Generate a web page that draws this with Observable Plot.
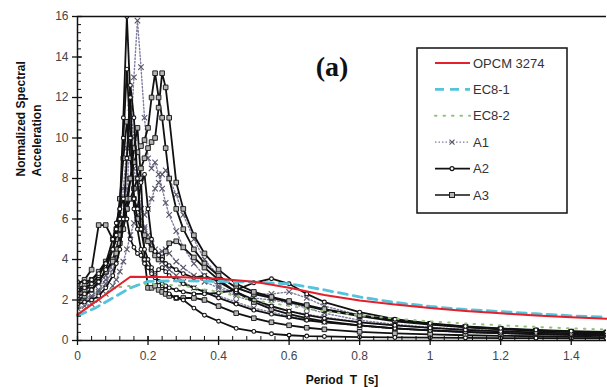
<!DOCTYPE html>
<html>
<head>
<meta charset="utf-8">
<script src="https://cdn.jsdelivr.net/npm/d3@7"></script>
<script src="https://cdn.jsdelivr.net/npm/@observablehq/plot@0.6"></script>
<style>
  html, body { margin: 0; padding: 0; background: #fff; }
  #chart { width: 607px; height: 387px; }
</style>
</head>
<body>
<div id="chart"></div>
<script>
// ---- Data ----
const periods = [0,0.02,0.04,0.06,0.08,0.10,0.11,0.12,0.13,0.14,0.15,0.16,0.17,0.18,0.19,0.20,0.21,0.22,0.23,0.24,0.25,0.26,0.28,0.30,0.33,0.36,0.40,0.45,0.50,0.55,0.60,0.65,0.70,0.80,0.90,1.0,1.1,1.2,1.3,1.4,1.5];

const A1_1 = [1.9,2.0,2.1,2.4,2.8, 3.5,4.0,5.0,6.0,7.5,10.0,13.0,15.8,13.5,11.0,9.0,8.5,8.8,8.2,7.5,6.8,6.2, 5.4,4.6, 3.8,3.2,2.7, 2.3,2.1,2.0,1.85,1.6,1.35, 1.0,0.8,0.65, 0.55,0.48,0.42,0.38,0.34];
const A1_2 = [2.3,2.4,2.5,2.8,3.2, 3.8,4.2,5.0,6.0,7.0,8.0,8.5,7.5,6.5,6.2,6.5,7.0,7.5,7.8,8.2,8.4,8.0, 7.2,6.2, 5.0,4.0,3.2, 2.6,2.3,2.3,2.4,2.1,1.7, 1.25,1.0,0.8, 0.66,0.56,0.48,0.42,0.38];
const A1_3 = [2.0,2.1,2.2,2.5,3.0, 3.8,4.5,5.5,7.5,9.5,11.5,10.0,8.0,6.5,5.5,5.0,4.6,4.3,4.1,3.9,3.7,3.5, 3.2,2.9, 2.6,2.4,2.2, 1.9,1.6,1.4,1.2,1.05,0.92, 0.72,0.58,0.48, 0.4,0.35,0.3,0.27,0.24];
const A1_4 = [1.6,1.7,1.8,2.0,2.3, 2.7,3.0,3.4,3.9,4.5,5.2,5.8,6.2,6.0,5.6,5.2,4.8,4.5,4.3,4.4,4.5,4.3, 3.9,3.6, 3.2,2.9,2.6, 2.2,1.9,1.65,1.45,1.3,1.15, 0.92,0.75,0.62, 0.52,0.45,0.4,0.35,0.31];

const A2_1 = [2.5,2.6,2.8,3.2,3.8, 5.0,5.8,6.5,11.0,16.0,12.0,6.5,5.5,4.5,3.8,3.6,3.4,3.3,3.5,3.6,3.4,3.2, 3.0,2.8, 2.6,2.4,2.1, 1.8,1.5,1.3,1.15,1.0,0.9, 0.75,0.6,0.5, 0.42,0.36,0.32,0.28,0.25];
const A2_2 = [2.2,2.3,2.5,2.9,3.5, 4.5,5.2,6.0,10.0,13.4,10.0,7.0,6.5,7.8,8.2,6.5,5.0,4.4,4.2,4.0,3.8,3.7, 3.5,3.3, 3.1,3.2,2.9, 2.4,2.0,1.7,1.45,1.25,1.1, 0.9,0.75,0.62, 0.52,0.45,0.4,0.35,0.32];
const A2_3 = [1.8,1.9,2.0,2.2,2.6, 3.2,3.8,4.5,6.0,9.0,12.6,11.0,8.0,5.5,4.5,4.0,3.6,3.2,2.9,2.7,2.5,2.3, 2.1,2.0, 1.6,1.25,0.95, 0.6,0.45,0.33,0.26,0.22,0.2, 0.17,0.15,0.14, 0.13,0.12,0.12,0.11,0.1];
const A2_4 = [2.9,2.9,3.0,3.3,3.8, 4.5,5.5,6.5,7.0,6.0,5.0,4.6,4.3,4.2,4.0,3.6,3.3,3.1,2.9,2.8,2.7,2.6, 2.5,2.4, 2.3,2.3,2.35, 2.5,2.85,3.05,2.8,2.3,1.9, 1.4,1.05,0.85, 0.7,0.6,0.52,0.46,0.42];

const A3_1 = [2.4,2.5,2.7,3.0,3.4, 4.0,4.5,5.2,6.0,7.0,8.0,8.8,9.3,9.6,9.9,10.5,12.0,13.2,12.0,11.0,9.5,8.0, 6.5,5.5, 4.5,3.8,3.2, 2.6,2.3,2.1,1.9,1.7,1.5, 1.2,0.95,0.78, 0.65,0.55,0.48,0.43,0.38];
const A3_2 = [2.6,2.7,3.0,3.4,3.9, 4.5,5.0,5.5,6.0,6.5,7.0,7.5,8.0,8.5,9.0,9.5,9.8,10.0,11.5,13.2,12.5,11.0, 7.8,6.5, 5.2,4.3,3.5, 2.8,2.4,2.15,1.95,1.75,1.55, 1.25,1.0,0.82, 0.68,0.58,0.5,0.44,0.4];
const A3_3 = [2.8,3.0,3.5,5.7,5.7, 5.0,5.5,7.0,9.0,10.8,9.0,7.0,6.0,5.5,5.2,4.9,4.5,4.2,4.0,4.1,4.4,4.8, 4.9,4.6, 4.1,3.6,3.0, 2.4,1.9,1.55,1.3,1.1,0.95, 0.75,0.6,0.5, 0.43,0.37,0.33,0.29,0.26];
const A3_4 = [2.0,2.2,2.5,2.9,3.4, 3.9,4.3,4.8,5.5,6.5,8.0,9.5,10.5,8.0,4.0,2.6,2.6,2.7,2.5,2.4,2.3,2.2, 2.1,2.1, 2.1,2.0,1.7, 1.35,1.1,0.9,0.75,0.63,0.55, 0.43,0.35,0.3, 0.26,0.23,0.21,0.19,0.17];

const opcmT = [0,0.15,0.3,0.4,0.5,0.6,0.7,0.8,0.9,1.0,1.1,1.2,1.3,1.4,1.5];
const opcmS = [1.28,3.15,3.12,3.05,2.9,2.6,2.25,1.98,1.78,1.6,1.46,1.34,1.24,1.15,1.08];
const ec81T = [0,0.05,0.1,0.15,0.2,0.3,0.4,0.5,0.6,0.65,0.7,0.8,0.9,1.0,1.1,1.2,1.3,1.4,1.5];
const ec81S = [1.22,1.6,2.1,2.6,2.92,2.95,2.92,2.88,2.8,2.65,2.5,2.15,1.88,1.68,1.53,1.43,1.32,1.22,1.15];
const ec82T = [0,0.05,0.1,0.2,0.3,0.4,0.5,0.6,0.7,0.8,0.9,1.0,1.1,1.2,1.3,1.4,1.5];
const ec82S = [1.3,1.9,2.6,2.8,2.7,2.4,2.0,1.7,1.45,1.25,1.08,0.94,0.84,0.75,0.67,0.6,0.54];

const xTicks = [0,0.2,0.4,0.6,0.8,1,1.2,1.4];
const yTicks = [0,2,4,6,8,10,12,14,16];
const legendNames = ["OPCM 3274","EC8-1","EC8-2","A1","A2","A3"];

// ---- Build tables ----
function rows(group, list) {
  return list.flatMap((vals, k) => periods.map((T, i) => ({T, S: vals[i], id: group + "-" + k})));
}
const a1Rows = rows("A1", [A1_1, A1_2, A1_3, A1_4]);
const a2Rows = rows("A2", [A2_1, A2_2, A2_3, A2_4]);
const a3Rows = rows("A3", [A3_1, A3_2, A3_3, A3_4]);
const codeRows = (Ts, Ss) => Ts.map((T, i) => ({T, S: Ss[i]}));
const opcm = codeRows(opcmT, opcmS), ec81 = codeRows(ec81T, ec81S), ec82 = codeRows(ec82T, ec82S);

const xMinor = d3.range(0, 1.5001, 0.04);
const yMinor = d3.range(0, 16.001, 0.4);

const font = "'Liberation Sans', Arial, sans-serif";

const svg = Plot.plot({
  width: 607, height: 387,
  marginLeft: 77, marginRight: 1, marginTop: 16, marginBottom: 47,
  style: {fontFamily: font, fontSize: "12px", background: "#fff", color: "#222", overflow: "visible"},
  x: {domain: [0, 1.5], label: null},
  y: {domain: [0, 16], label: null},
  marks: [
    // curves
    Plot.line(a1Rows, {x: "T", y: "S", z: "id", stroke: "#7f7f9e", strokeWidth: 1.4, strokeDasharray: "1.5,2", clip: true}),
    Plot.dot(a1Rows, {x: "T", y: "S", symbol: "times", r: 2.6, stroke: "#55556a", strokeWidth: 1.1, clip: true}),
    Plot.line(a3Rows, {x: "T", y: "S", z: "id", stroke: "#111", strokeWidth: 1.8, clip: true}),
    Plot.dot(a3Rows, {x: "T", y: "S", symbol: "square", r: 2.6, fill: "#b5b5b5", stroke: "#222", strokeWidth: 1, clip: true}),
    Plot.line(a2Rows, {x: "T", y: "S", z: "id", stroke: "#111", strokeWidth: 1.8, clip: true}),
    Plot.dot(a2Rows, {x: "T", y: "S", r: 1.9, fill: "#fff", stroke: "#111", strokeWidth: 1.1, clip: true}),
    Plot.line(ec82, {x: "T", y: "S", stroke: "#8fc27a", strokeWidth: 2, strokeDasharray: "1.5,7", strokeLinecap: "round"}),
    Plot.line(ec81, {x: "T", y: "S", stroke: "#55c3dc", strokeWidth: 2.8, strokeDasharray: "9,6"}),
    Plot.line(opcm, {x: "T", y: "S", stroke: "#e3202c", strokeWidth: 2}),
    // axes lines
    Plot.ruleX([0], {stroke: "#111", strokeWidth: 1.5}),
    Plot.ruleY([0], {stroke: "#111", strokeWidth: 1.5}),
    Plot.ruleY([16], {stroke: "#111", strokeWidth: 1.5}),
    // ticks
    Plot.axisY({ticks: yTicks, tickSize: 10, dx: 5, tickFormat: () => "", stroke: "#111", strokeWidth: 1.3, label: null}),
    Plot.axisY({ticks: yMinor, tickSize: 4, dx: 4, tickFormat: () => "", stroke: "#111", strokeWidth: 1, label: null}),
    Plot.axisY({ticks: yTicks, tickSize: 0, tickPadding: 9, tickFormat: d => String(d), fill: "#444", fontSize: 12, label: null}),
    Plot.axisX({ticks: xTicks, tickSize: 9, dy: -4, tickFormat: () => "", stroke: "#111", strokeWidth: 1.3, label: null}),
    Plot.axisX({ticks: xMinor, tickSize: 4, dy: -4, tickFormat: () => "", stroke: "#111", strokeWidth: 1, label: null}),
    Plot.axisX({ticks: xTicks, tickSize: 0, tickPadding: 11, tickFormat: d => String(d), fill: "#444", fontSize: 12, label: null}),
    // titles
    Plot.text(["Period\u00a0\u00a0T\u00a0\u00a0[s]"], {frameAnchor: "bottom", lineAnchor: "middle", dy: 40, fontWeight: "bold", fontSize: 12, fill: "#111"}),
    Plot.text(["Normalized Spectral"], {frameAnchor: "left", rotate: -90, dx: -56, dy: -2, fontWeight: "bold", fontSize: 12, fill: "#111"}),
    Plot.text(["Acceleration"], {frameAnchor: "left", rotate: -90, dx: -40, dy: -2, fontWeight: "bold", fontSize: 12, fill: "#111"}),
    Plot.text(["(a)"], {frameAnchor: "top", dx: -10, dy: 51, lineAnchor: "middle", fontFamily: "'Liberation Serif', 'Times New Roman', serif", fontWeight: "bold", fontSize: 28, fill: "#111"})
  ]
});
document.getElementById("chart").appendChild(svg);

// ---- Legend box (inside the SVG) ----
const lg = d3.select(svg).append("g").attr("font-family", font).attr("font-size", 13).attr("text-anchor", "start");
lg.append("rect").attr("x", 417).attr("y", 48).attr("width", 150).attr("height", 165)
  .attr("fill", "#fff").attr("stroke", "#111").attr("stroke-width", 1.5);
const styles = [
  {stroke: "#e3202c", w: 2, dash: null, marker: null},
  {stroke: "#55c3dc", w: 2.8, dash: "9,6", marker: null},
  {stroke: "#8fc27a", w: 2, dash: "1.5,7", marker: null},
  {stroke: "#7f7f9e", w: 1.3, dash: "1.5,2", marker: "times"},
  {stroke: "#111", w: 1.7, dash: null, marker: "circle"},
  {stroke: "#111", w: 1.7, dash: null, marker: "square"}
];
legendNames.forEach((name, i) => {
  const y = 63 + i * 26.4;
  const s = styles[i];
  const ln = lg.append("line").attr("x1", 435).attr("x2", 470).attr("y1", y).attr("y2", y)
    .attr("stroke", s.stroke).attr("stroke-width", s.w);
  if (s.dash) ln.attr("stroke-dasharray", s.dash).attr("stroke-linecap", i === 2 ? "round" : null);
  if (s.marker === "times") {
    lg.append("path").attr("d", `M449.5,${y-2.5}l5,5M449.5,${y+2.5}l5,-5`).attr("stroke", "#55556a").attr("stroke-width", 1.1);
  } else if (s.marker === "circle") {
    lg.append("circle").attr("cx", 452).attr("cy", y).attr("r", 2).attr("fill", "#fff").attr("stroke", "#111").attr("stroke-width", 1.1);
  } else if (s.marker === "square") {
    lg.append("rect").attr("x", 449.5).attr("y", y - 2.5).attr("width", 5).attr("height", 5).attr("fill", "#b5b5b5").attr("stroke", "#222");
  }
  lg.append("text").attr("x", 473).attr("y", y).attr("dy", "0.35em").attr("fill", "#333").attr("text-anchor", "start").text(name);
});
</script>
</body>
</html>
